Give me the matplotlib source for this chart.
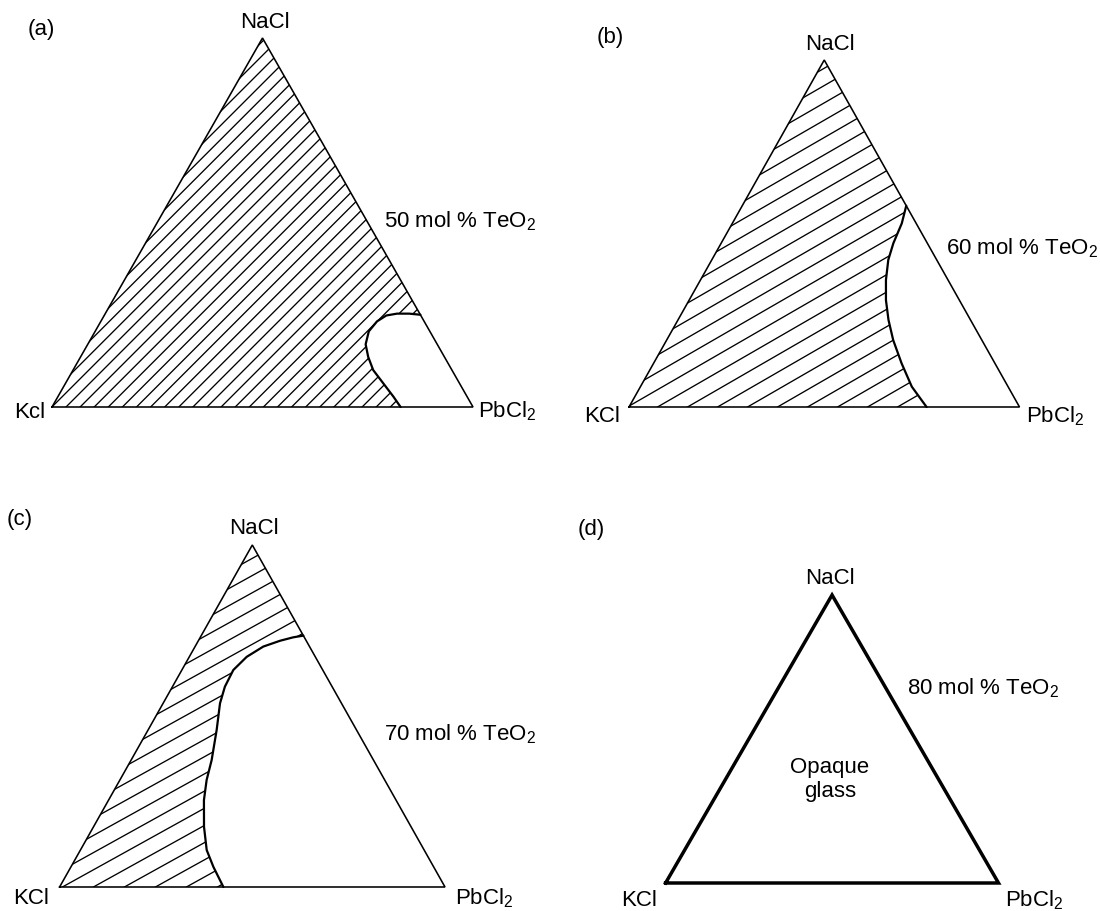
import numpy as np
import matplotlib.pyplot as plt
from matplotlib.patches import Polygon

plt.rcParams['font.family'] = 'Liberation Sans'
plt.rcParams['mathtext.fontset'] = 'custom'
plt.rcParams['mathtext.rm'] = 'Liberation Sans'
plt.rcParams['mathtext.it'] = 'Liberation Sans:italic'

# ---- data -------------------------------------------------------------
teo2_mol = [50, 60, 70, 80]
panel_tags = ['(a)', '(b)', '(c)', '(d)']
kcl_labels = ['Kcl', 'KCl', 'KCl', 'KCl']

# glass boundary as (NaCl, PbCl2) mole fractions, from the NaCl-PbCl2 edge
# down to the KCl-PbCl2 base; the side towards KCl is the hatched (glass) field
bound_a_na = [0.25, 0.253, 0.253, 0.248, 0.232, 0.205, 0.170, 0.136, 0.100, 0.064, 0.028, 0.0]
bound_a_pb = [0.75, 0.722, 0.693, 0.670, 0.656, 0.650, 0.660, 0.683, 0.713, 0.755, 0.797, 0.828]

bound_b_na = [0.58, 0.529, 0.472, 0.424, 0.366, 0.308, 0.251, 0.193, 0.126, 0.0585, 0.0]
bound_b_pb = [0.42, 0.434, 0.441, 0.452, 0.475, 0.504, 0.539, 0.580, 0.635, 0.695, 0.762]

bound_c_na = [0.735, 0.730, 0.720, 0.703, 0.673, 0.6345, 0.5857, 0.537, 0.459, 0.371,
              0.313, 0.254, 0.176, 0.108, 0.059, 0.0]
bound_c_pb = [0.265, 0.241, 0.212, 0.177, 0.149, 0.1335, 0.136, 0.1477, 0.178, 0.209,
              0.225, 0.2475, 0.2867, 0.3277, 0.3695, 0.425]

boundaries = [(bound_a_na, bound_a_pb), (bound_b_na, bound_b_pb),
              (bound_c_na, bound_c_pb), None]

# ---- layout (pixels in a 1100 x 911 figure) ------------------------------
FW, FH = 1100, 911
# KCl x, PbCl2 x, base y, apex y
geom = [(52, 473, 407, 38), (629, 1019.5, 407, 60),
        (59.6, 445, 887, 545), (665.6, 998.5, 883, 595)]
# hatch angle (deg), horizontal spacing (px), phase (px)
hatch = [(45, 14.1, 8), (30, 30, 0), (29, 31, 12), None]
# text anchors: tag, NaCl, KCl (right end), PbCl2 (left end), TeO2 label (left end)
tag_pos = [(28, 27), (597, 35), (7, 517), (578, 528)]
na_pos = [(265, 20), (830, 43), (254, 527), (830, 577)]
k_pos = [(45.5, 410), (620, 415), (49, 897), (657, 899)]
pb_pos = [(478, 410), (1026, 415), (455, 897), (1005, 899)]
te_pos = [(384, 220), (946, 247), (384, 733), (907, 687)]

FS = 16


def ternary_xy(na, pb):
    na = np.asarray(na, float)
    pb = np.asarray(pb, float)
    return pb + na / 2.0, na


def ftext(x, y, s, **kw):
    # y given as visual centre of the capital letters
    fig.text(x / FW, 1 - (y + 7.5) / FH, s, fontsize=FS, va='baseline', **kw)


fig = plt.figure(figsize=(11, 9.11), dpi=100)

for i in range(4):
    x0, x1, yb, ya = geom[i]
    W, H = x1 - x0, yb - ya
    ax = fig.add_axes([x0 / FW, 1 - yb / FH, W / FW, H / FH])
    ax.set_xlim(0, 1)
    ax.set_ylim(0, 1)
    ax.axis('off')

    lw = 2.5 if i == 3 else 1.15
    tx = [0, 1, 0.5, 0]
    ty = [0, 0, 1, 0]
    ax.plot(tx, ty, color='black', lw=lw, clip_on=False, solid_joinstyle='miter')

    if boundaries[i] is not None:
        bna, bpb = boundaries[i]
        bx, by = ternary_xy(bna, bpb)
        # hatched glass field: KCl corner, boundary (base -> edge), NaCl corner
        px = np.concatenate([[0.0], bx[::-1], [0.5]])
        py = np.concatenate([[0.0], by[::-1], [1.0]])
        region = Polygon(np.column_stack([px, py]), closed=True,
                         facecolor='none', edgecolor='none')
        ax.add_patch(region)

        ang, sp, ph = hatch[i]
        s = np.tan(np.radians(ang))
        for c in np.arange(ph - 3 * W, W + sp, sp):
            hx = np.array([c, c + 3 * W])
            hy = s * (hx - c)
            ln, = ax.plot(hx / W, hy / H, color='black', lw=0.95)
            ln.set_clip_path(region)

        ax.plot(bx, by, color='black', lw=1.6, clip_on=False,
                solid_joinstyle='round', solid_capstyle='round')

    ftext(*tag_pos[i], panel_tags[i], ha='left')
    ftext(*na_pos[i], 'NaCl', ha='center')
    ftext(*k_pos[i], kcl_labels[i], ha='right')
    ftext(*pb_pos[i], r'PbCl$_2$', ha='left')
    ftext(*te_pos[i], '%d mol %% TeO$_2$' % teo2_mol[i], ha='left')

ftext(830, 765, 'Opaque', ha='center')
ftext(830, 790, 'glass', ha='center')

fig.savefig('out.png', dpi=100, facecolor='white')
